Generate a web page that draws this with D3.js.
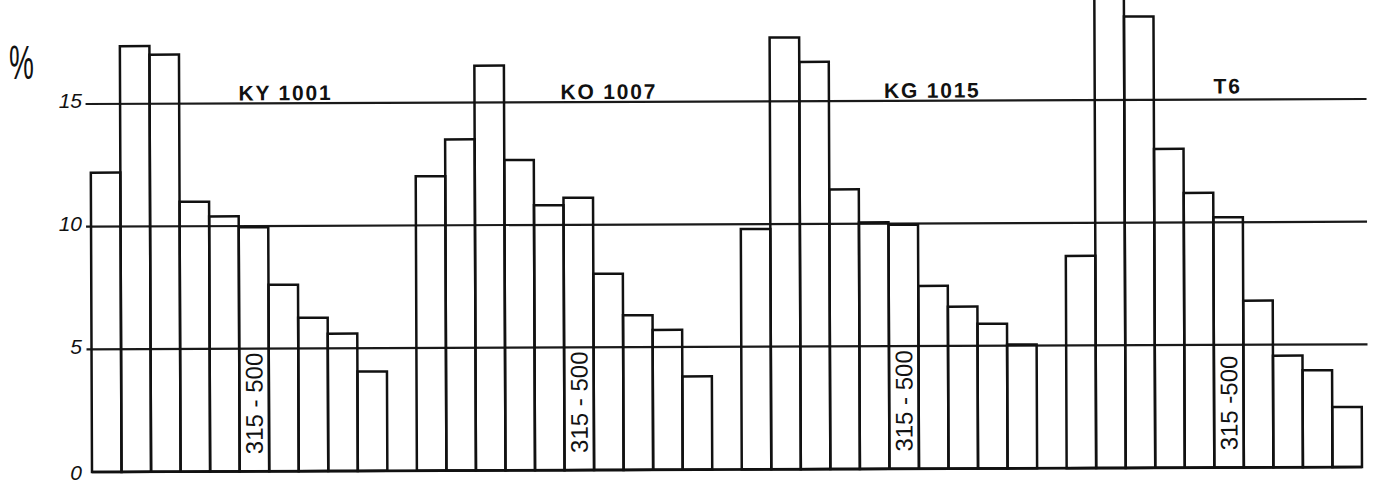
<!DOCTYPE html>
<html>
<head>
<meta charset="utf-8">
<script src="https://cdn.jsdelivr.net/npm/d3@7"></script>
<style>
  html, body { margin: 0; padding: 0; background: #fff; }
  svg { display: block; }
</style>
</head>
<body>
<script>
// ---- data ----
const groups = ["KY 1001", "KO 1007", "KG 1015", "T6"];
const bins = [1, 2, 3, 4, 5, 6, 7, 8, 9, 10];
const valuesKY = [12.2, 17.35, 17.0, 11.0, 10.4, 9.95, 7.6, 6.25, 5.6, 4.05];
const valuesKO = [12.0, 13.5, 16.5, 12.65, 10.8, 11.1, 8.0, 6.3, 5.7, 3.8];
const valuesKG = [9.8, 17.6, 16.6, 11.4, 10.05, 9.95, 7.45, 6.6, 5.9, 5.05];
const valuesT6 = [8.65, 20.5, 18.4, 13.0, 11.2, 10.2, 6.8, 4.55, 3.95, 2.45];
const bandLabels = ["315 - 500", "315 - 500", "315 - 500", "315 -500"];
const yTicks = [0, 5, 10, 15];
const yTickLabels = ["0", "5", "10", "15"];
const yUnit = "%";

// ---- layout ----
const W = 1381, H = 486;
const series = [valuesKY, valuesKO, valuesKG, valuesT6];
const slotsPerGroup = bins.length + 1;
const nSlots = groups.length * slotsPerGroup - 1;
const labelSlot = [6.6, 6.55, 6.5, 5.5];

const svg = d3.select("body").append("svg").attr("width", W).attr("height", H);
svg.append("rect").attr("width", W).attr("height", H).attr("fill", "#fff");

const x = d3.scaleLinear().domain([0, nSlots]).range([92, 1362]);
const y = d3.scaleLinear().domain([0, 15]).range([472, 104]);

const g = svg.append("g").attr("transform", "rotate(-0.225,92,472)");

// gridlines
g.selectAll("line.grid").data(yTicks.filter(d => d > 0)).join("line")
  .attr("class", "grid")
  .attr("x1", 87).attr("x2", 1368)
  .attr("y1", d => y(d)).attr("y2", d => y(d))
  .attr("stroke", "#1a1a1a").attr("stroke-width", 2.2);

// baseline
g.append("line")
  .attr("x1", x(0)).attr("x2", x(nSlots))
  .attr("y1", y(0)).attr("y2", y(0))
  .attr("stroke", "#111").attr("stroke-width", 2.6);

// bars
const barData = [];
series.forEach((vals, gi) => vals.forEach((v, i) => barData.push({ slot: gi * slotsPerGroup + i, v })));
g.selectAll("rect.bar").data(barData).join("rect")
  .attr("class", "bar")
  .attr("x", d => x(d.slot))
  .attr("width", d => x(d.slot + 1) - x(d.slot))
  .attr("y", d => y(d.v))
  .attr("height", d => y(0) - y(d.v))
  .attr("fill", "none")
  .attr("stroke", "#111")
  .attr("stroke-width", 2.5);

// group labels
g.selectAll("text.glabel").data(groups).join("text")
  .attr("class", "glabel")
  .attr("x", (d, i) => x(i * slotsPerGroup + labelSlot[i]))
  .attr("y", (d, i) => y(15) - (i === 3 ? 6 : 3))
  .attr("text-anchor", "middle")
  .attr("font-family", "Liberation Sans, Arial, sans-serif")
  .attr("font-weight", "bold")
  .attr("font-size", 21)
  .attr("letter-spacing", "1.8px")
  .attr("fill", "#111")
  .text(d => d);

// rotated band labels in 6th bar
g.selectAll("text.blabel").data(bandLabels).join("text")
  .attr("class", "blabel")
  .each(function (d, i) {
    const cx = x(i * slotsPerGroup + 5.5);
    const cy = y(0.7);
    d3.select(this).attr("x", cx).attr("y", cy)
      .attr("transform", `rotate(-90,${cx},${cy})`);
  })
  .attr("text-anchor", "start")
  .attr("dominant-baseline", "central")
  .attr("font-family", "Liberation Sans, Arial, sans-serif")
  .attr("font-size", 24)
  .attr("fill", "#111")
  .text(d => d);

// y tick labels
svg.selectAll("text.ytick").data(yTicks).join("text")
  .attr("class", "ytick")
  .attr("x", 82)
  .attr("y", d => d === 0 ? y(d) + 1 : y(d) - 3)
  .attr("dy", "0.35em")
  .attr("text-anchor", "end")
  .attr("font-family", "Liberation Sans, Arial, sans-serif")
  .attr("font-style", "italic")
  .attr("font-size", 21)
  .attr("fill", "#111")
  .text((d, i) => yTickLabels[i]);

// unit
svg.append("text")
  .attr("transform", "translate(9,79) scale(1,1.75)")
  .attr("font-family", "Liberation Sans, Arial, sans-serif")
  .attr("font-size", 28)
  .attr("fill", "#111")
  .text(yUnit);
</script>
</body>
</html>
